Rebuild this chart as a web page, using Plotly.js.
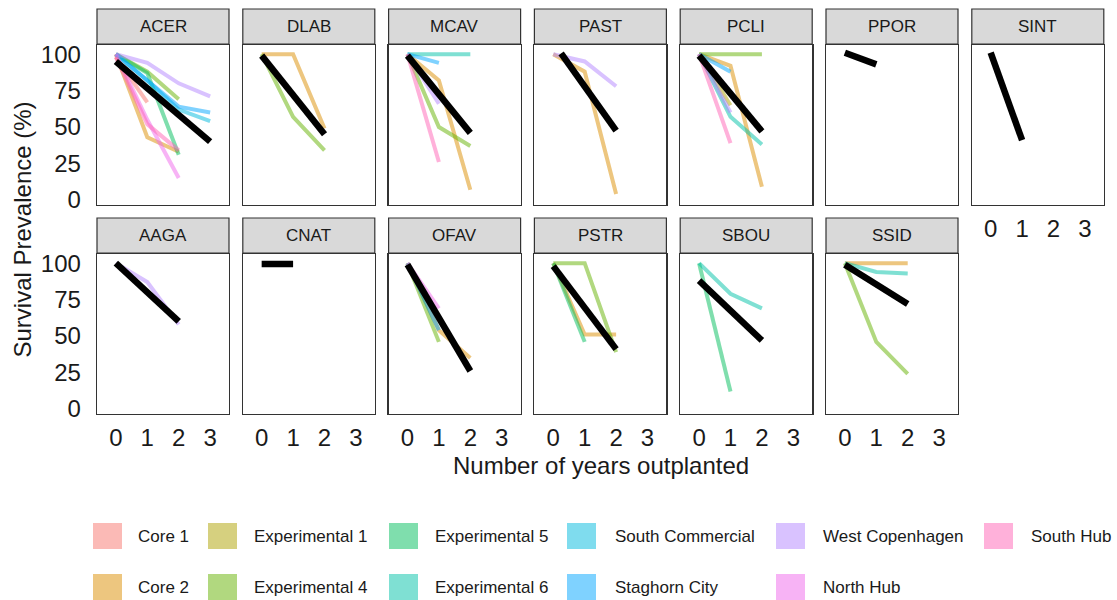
<!DOCTYPE html>
<html>
<head>
<meta charset="utf-8">
<script src="https://cdn.plot.ly/plotly-3.0.1.min.js"></script>
<style>html,body{margin:0;padding:0;background:#fff;}#chart{width:1117px;height:600px;}</style>
</head>
<body>
<div id="chart"></div>
<script>
// ---------- data ----------
const years = [0, 1, 2, 3];
const yTicks = [0, 25, 50, 75, 100];
const panelOrder = ['ACER','DLAB','MCAV','PAST','PCLI','PPOR','SINT','AAGA','CNAT','OFAV','PSTR','SBOU','SSID'];
const sites = ['Core 1','Core 2','Experimental 1','Experimental 4','Experimental 5','Experimental 6',
               'South Commercial','Staghorn City','West Copenhagen','North Hub','South Hub'];
const siteColors = ['#F8766D','#DB8E00','#AEA200','#64B200','#00BD5C','#00C1A7',
                    '#00BADE','#00A6FF','#B385FF','#EF67EB','#FF63B6'];

// survival (%) per site, indexed by year 0,1,2,3
const ACER = {'Core 1':[98,67], 'Core 2':[100,43,33], 'Experimental 4':[100,88,69], 'Experimental 5':[100,87,31],
              'South Commercial':[100,82,62,54], 'Staghorn City':[100,82,64,60], 'West Copenhagen':[100,94,80,71],
              'North Hub':[100,55,15], 'South Hub':[98,52,34]};
const DLAB = {'Core 2':[100,100,49], 'Experimental 4':[100,57,34]};
const MCAV = {'Core 2':[100,82,7], 'Experimental 4':[100,50,37], 'Experimental 6':[100,100,100],
              'Staghorn City':[100,94], 'West Copenhagen':[100,66], 'South Hub':[100,26]};
const PAST = {'Core 2':[100,88,4], 'West Copenhagen':[100,95,78]};
const PCLI = {'Core 2':[100,92,9], 'Experimental 1':[100,65], 'Experimental 4':[100,100,100],
              'Experimental 6':[100,57,38], 'Staghorn City':[100,88], 'West Copenhagen':[100,60], 'South Hub':[100,39]};
const PPOR = {};
const SINT = {};
const AAGA = {'West Copenhagen':[100,87,58]};
const CNAT = {};
const OFAV = {'Core 2':[100,54,35], 'Experimental 4':[100,46], 'Staghorn City':[100,54], 'North Hub':[100,69]};
const PSTR = {'Core 2':[100,51,51], 'Experimental 4':[100,100,39], 'Experimental 5':[100,46]};
const SBOU = {'Experimental 5':[100,12], 'Experimental 6':[100,79,69]};
const SSID = {'Core 2':[100,100,100], 'Experimental 4':[100,46,24], 'Experimental 6':[100,94,93]};
const speciesData = {ACER, DLAB, MCAV, PAST, PCLI, PPOR, SINT, AAGA, CNAT, OFAV, PSTR, SBOU, SSID};

// overall trend (black line)
const trendX = {ACER:[0,3], DLAB:[0,2], MCAV:[0,2], PAST:[0.25,2], PCLI:[0,2], PPOR:[0,1], SINT:[0,1],
                AAGA:[0,2], CNAT:[0,1], OFAV:[0,2], PSTR:[0,2], SBOU:[0,2], SSID:[0,2]};
const trendY = {ACER:[95,40], DLAB:[99,45], MCAV:[99,46], PAST:[100.6,47.5], PCLI:[99,47], PPOR:[101,93], SINT:[101,41],
                AAGA:[100,60], CNAT:[99.5,99.5], OFAV:[99,26], PSTR:[98,41], SBOU:[88,47], SSID:[99,72]};

// ---------- layout geometry (pixels) ----------
const W = 1117, H = 600;
const FONT = 'Liberation Sans, Arial, sans-serif';
const colLeft0 = 97, colStep = 145.8, panelW = 132;
const rowPanelTop = [45, 254], panelH = 160, stripH = 35;
const px = v => v / W;
const py = v => 1 - v / H;

const traces = [];
const layout = {
  width: W, height: H,
  margin: {l: 0, r: 0, t: 0, b: 0},
  paper_bgcolor: '#fff', plot_bgcolor: '#fff',
  showlegend: false,
  font: {family: FONT, color: '#1a1a1a'},
  shapes: [], annotations: []
};

panelOrder.forEach((sp, i) => {
  const row = i < 7 ? 0 : 1;
  const col = row === 0 ? i : i - 7;
  const x0 = colLeft0 + col * colStep, x1 = x0 + panelW;
  const top = rowPanelTop[row], bot = top + panelH;
  const n = i + 1;
  const xa = n === 1 ? 'x' : 'x' + n, ya = n === 1 ? 'y' : 'y' + n;
  const xk = n === 1 ? 'xaxis' : 'xaxis' + n, yk = n === 1 ? 'yaxis' : 'yaxis' + n;
  const showX = row === 1 || sp === 'SINT';
  const showY = col === 0;
  layout[xk] = {
    domain: [px(x0), px(x1)], anchor: ya, range: [-0.6, 3.6],
    tickvals: years, ticktext: years.map(String), showticklabels: showX,
    ticks: '', ticklabelstandoff: 2,
    tickfont: {family: FONT, size: 24, color: '#1a1a1a'},
    showgrid: false, zeroline: false,
    showline: true, mirror: true, linecolor: '#333', linewidth: 1.3, fixedrange: true
  };
  layout[yk] = {
    domain: [py(bot), py(top)], anchor: xa, range: [-3.5, 106.3],
    tickvals: yTicks, ticktext: yTicks.map(String), showticklabels: showY,
    ticks: '', ticklabelstandoff: 10,
    tickfont: {family: FONT, size: 24, color: '#1a1a1a'},
    showgrid: false, zeroline: false,
    showline: true, mirror: true, linecolor: '#333', linewidth: 1.3, fixedrange: true
  };
  // strip
  layout.shapes.push({type: 'rect', xref: 'paper', yref: 'paper',
    x0: px(x0), x1: px(x1), y0: py(top - 1), y1: py(top - 1 - stripH),
    fillcolor: '#D9D9D9', line: {color: '#333', width: 1.2}, layer: 'below'});
  layout.annotations.push({xref: 'paper', yref: 'paper', x: px((x0 + x1) / 2), y: py(top - 1 - stripH / 2),
    text: sp, showarrow: false, xanchor: 'center', yanchor: 'middle',
    font: {family: FONT, size: 17, color: '#1a1a1a'}});

  const d = speciesData[sp];
  sites.forEach((s, k) => {
    if (!d[s]) return;
    const vals = d[s];
    traces.push({type: 'scatter', mode: 'lines', xaxis: xa, yaxis: ya,
      x: years.slice(0, vals.length), y: vals, name: s, opacity: 0.5,
      line: {color: siteColors[k], width: 4}, hoverinfo: 'skip'});
  });
  traces.push({type: 'scatter', mode: 'lines', xaxis: xa, yaxis: ya,
    x: trendX[sp], y: trendY[sp], name: 'Overall',
    line: {color: '#000', width: 6.5}, hoverinfo: 'skip'});
});

// axis titles
layout.annotations.push({xref: 'paper', yref: 'paper', x: px(22), y: py(229.5), textangle: -90,
  text: 'Survival Prevalence (%)', showarrow: false, xanchor: 'center', yanchor: 'middle',
  font: {family: FONT, size: 24, color: '#1a1a1a'}});
layout.annotations.push({xref: 'paper', yref: 'paper', x: px(600.5), y: py(466),
  text: 'Number of years outplanted', showarrow: false, xanchor: 'center', yanchor: 'middle',
  font: {family: FONT, size: 24, color: '#1a1a1a'}});

// legend (two rows, column-major)
const legColLeft = [93, 208, 389, 567, 776, 984];
const legTextLeft = [136, 252, 433, 613, 821, 1029];
const legRowMid = [536, 587];
const swW = 29, swH = 26;
sites.forEach((s, k) => {
  const c = Math.floor(k / 2), r = k % 2;
  const lx = legColLeft[c], ly = legRowMid[r];
  layout.shapes.push({type: 'rect', xref: 'paper', yref: 'paper',
    x0: px(lx), x1: px(lx + swW), y0: py(ly - swH / 2), y1: py(ly + swH / 2),
    fillcolor: siteColors[k], opacity: 0.5, line: {width: 0}});
  layout.annotations.push({xref: 'paper', yref: 'paper', x: px(legTextLeft[c]), y: py(ly),
    text: s, showarrow: false, xanchor: 'left', yanchor: 'middle',
    font: {family: FONT, size: 17, color: '#1a1a1a'}});
});

Plotly.newPlot('chart', traces, layout, {staticPlot: true, displayModeBar: false});
</script>
</body>
</html>
